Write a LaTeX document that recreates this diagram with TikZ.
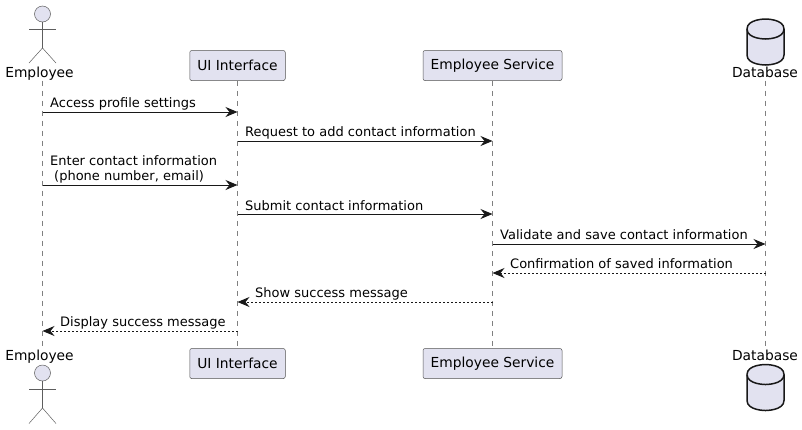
\documentclass[tikz,border=0pt]{standalone}
\usepackage{fontspec}
\setmainfont{DejaVu Sans}
\usepackage{xcolor}
\definecolor{umlfill}{RGB}{226,226,240}
\definecolor{umlline}{RGB}{24,24,24}
\usetikzlibrary{arrows.meta,positioning,calc}
\tikzset{
  pbox/.style={draw=umlline!75, line width=0.5pt, rounded corners=2pt, fill=umlfill,
               font=\fontsize{13.8}{16}\selectfont, minimum height=30pt, inner sep=0pt},
  plabel/.style={font=\fontsize{13.8}{16}\selectfont, inner sep=0pt, text height=11pt, text depth=3pt},
  lifeline/.style={draw=umlline!55, line width=0.5pt, dash pattern=on 5pt off 5pt},
  msg/.style={draw=umlline, line width=1pt, -{Stealth[length=12pt,width=10pt,inset=4pt]}},
  retmsg/.style={msg, dash pattern=on 2pt off 2pt},
  msgtext/.style={font=\fontsize{13}{15}\selectfont, inner sep=0pt, anchor=base west, align=left},
  actorline/.style={draw=umlline!70, line width=0.5pt},
  dbline/.style={draw=umlline, line width=1.5pt, fill=umlfill},
}
\begin{document}
\begin{tikzpicture}[x=1pt, y=-1pt]
\useasboundingbox (0,0) rectangle (802,429);

% --- Participants, top ---
\node[plabel] (emp-top) at (39.5,73.5) {Employee};
\node[pbox, minimum width=95.5pt] (ui-top) at (237.5,65.5) {UI Interface};
\node[pbox, minimum width=139pt] (svc-top) at (492.5,65.5) {Employee Service};
\node[plabel] (db-top) at (765,73.5) {Database};

% --- Participants, bottom ---
\node[plabel] (emp-bot) at (39.5,356.5) {Employee};
\node[pbox, minimum width=95.5pt] (ui-bot) at (237.5,363.5) {UI Interface};
\node[pbox, minimum width=139pt] (svc-bot) at (492.5,363.5) {Employee Service};
\node[plabel] (db-bot) at (765,356.5) {Database};

% Lifeline positions
\coordinate (emp) at (42.5,0);
\coordinate (db) at (765.5,0);

% Lifelines
\draw[lifeline] (emp |- emp-top.south) -- (emp |- emp-bot.north);
\draw[lifeline] (ui-top.south) -- (ui-bot.north);
\draw[lifeline] (svc-top.south) -- (svc-bot.north);
\draw[lifeline] (db |- db-top.south) -- (db |- db-bot.north);

% Actor, top
\draw[actorline, fill=umlfill] (42.5,14) circle (8);
\draw[actorline] (42.5,22) -- (42.5,48);
\draw[actorline] (29,29) -- (56,29);
\draw[actorline] (29,63) -- (42.5,48) -- (56,63);

% Actor, bottom
\draw[actorline, fill=umlfill] (42.5,373) circle (8);
\draw[actorline] (42.5,381) -- (42.5,408);
\draw[actorline] (29,389.5) -- (56,389.5);
\draw[actorline] (29,423.5) -- (42.5,408) -- (56,423.5);

% Database, top
\draw[dbline] (747,29) .. controls (747,19) and (765.5,19) .. (765.5,19)
  .. controls (765.5,19) and (784,19) .. (784,29)
  -- (784,55) .. controls (784,65) and (765.5,65) .. (765.5,65)
  .. controls (765.5,65) and (747,65) .. (747,55) -- cycle;
\draw[dbline] (747,29) .. controls (747,39) and (765.5,39) .. (765.5,39)
  .. controls (765.5,39) and (784,39) .. (784,29);

% Database, bottom
\draw[dbline] (747,374.5) .. controls (747,364.5) and (765.5,364.5) .. (765.5,364.5)
  .. controls (765.5,364.5) and (784,364.5) .. (784,374.5)
  -- (784,400.5) .. controls (784,410.5) and (765.5,410.5) .. (765.5,410.5)
  .. controls (765.5,410.5) and (747,410.5) .. (747,400.5) -- cycle;
\draw[dbline] (747,374.5) .. controls (747,384.5) and (765.5,384.5) .. (765.5,384.5)
  .. controls (765.5,384.5) and (784,384.5) .. (784,374.5);

% --- Messages ---
\coordinate (r1) at (0,112);
\coordinate (r2) at (0,141);
\coordinate (r3) at (0,185);
\coordinate (r4) at (0,214);
\coordinate (r5) at (0,244);
\coordinate (r6) at (0,273);
\coordinate (r7) at (0,302);
\coordinate (r8) at (0,331);

\draw[msg] (emp |- r1) -- (ui-top |- r1);
\node[msgtext] (t1) at (50,107) {Access profile settings};
\draw[msg] (ui-top |- r2) -- (svc-top |- r2);
\node[msgtext] (t2) at (245,136) {Request to add contact information};
\draw[msg] (emp |- r3) -- (ui-top |- r3);
\node[msgtext] (t3) at (50,180.5) {Enter contact information\\\hspace*{4pt}(phone number, email)};
\draw[msg] (ui-top |- r4) -- (svc-top |- r4);
\node[msgtext] (t4) at (245,210) {Submit contact information};
\draw[msg] (svc-top |- r5) -- (db |- r5);
\node[msgtext] (t5) at (500,239) {Validate and save contact information};
\draw[retmsg] (db |- r6) -- (svc-top |- r6);
\node[msgtext] (t6) at (510,268) {Confirmation of saved information};
\draw[retmsg] (svc-top |- r7) -- (ui-top |- r7);
\node[msgtext] (t7) at (255,297) {Show success message};
\draw[retmsg] (ui-top |- r8) -- (emp |- r8);
\node[msgtext] (t8) at (60,326) {Display success message};

\end{tikzpicture}
\end{document}
